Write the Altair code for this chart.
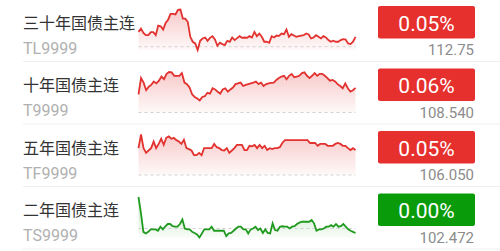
import altair as alt
import pandas as pd

# ---- quote board: main bond-futures contracts ----
names = ["三十年国债主连", "十年国债主连", "五年国债主连", "二年国债主连"]
codes = ["TL9999", "T9999", "TF9999", "TS9999"]
last_labels = ["112.75", "108.540", "106.050", "102.472"]
pct_labels = ["0.05%", "0.06%", "0.05%", "0.00%"]
prev_close = [112.69, 108.475, 105.997, 102.474]

# intraday minute prices, one list per contract
tl_prices = [
    112.78, 112.80, 112.774, 112.76, 112.76, 112.778, 112.778, 112.76, 112.818, 112.814,
    112.794, 112.834, 112.854, 112.89, 112.89, 112.886, 112.914, 112.916, 112.86, 112.86,
    112.84, 112.75, 112.72, 112.71, 112.67, 112.726, 112.74, 112.746, 112.726, 112.744,
    112.754, 112.734, 112.696, 112.714, 112.706, 112.70, 112.726, 112.72, 112.746, 112.73,
    112.742, 112.754, 112.744, 112.746, 112.744, 112.754, 112.746, 112.78, 112.754, 112.77,
    112.75, 112.72, 112.72, 112.714, 112.754, 112.746, 112.758, 112.756, 112.77, 112.766,
    112.794, 112.75, 112.766, 112.758, 112.75, 112.754, 112.758, 112.76, 112.77, 112.764,
    112.74, 112.746, 112.76, 112.75, 112.74, 112.754, 112.746, 112.73, 112.72, 112.726,
    112.72, 112.72, 112.73, 112.736, 112.734, 112.71, 112.706, 112.72, 112.75,
]
t_prices = [
    108.523, 108.566, 108.554, 108.534, 108.543, 108.548, 108.557, 108.552, 108.559, 108.570,
    108.563, 108.577, 108.582, 108.581, 108.572, 108.572, 108.572, 108.579, 108.554, 108.550,
    108.541, 108.523, 108.516, 108.512, 108.507, 108.516, 108.518, 108.527, 108.525, 108.539,
    108.536, 108.530, 108.525, 108.536, 108.539, 108.530, 108.536, 108.541, 108.550, 108.552,
    108.554, 108.545, 108.548, 108.550, 108.552, 108.554, 108.557, 108.550, 108.554, 108.545,
    108.550, 108.552, 108.553, 108.554, 108.561, 108.566, 108.570, 108.572, 108.563, 108.572,
    108.577, 108.568, 108.570, 108.572, 108.579, 108.581, 108.572, 108.566, 108.572, 108.579,
    108.572, 108.577, 108.577, 108.572, 108.566, 108.559, 108.561, 108.557, 108.550, 108.545,
    108.539, 108.552, 108.539, 108.530, 108.534, 108.540,
]
tf_prices = [
    106.054, 106.083, 106.054, 106.044, 106.049, 106.054, 106.068, 106.054, 106.063, 106.074,
    106.061, 106.076, 106.079, 106.074, 106.076, 106.071, 106.068, 106.063, 106.072, 106.054,
    106.052, 106.049, 106.039, 106.039, 106.044, 106.039, 106.054, 106.054, 106.054, 106.054,
    106.063, 106.056, 106.054, 106.050, 106.049, 106.054, 106.044, 106.049, 106.054, 106.061,
    106.061, 106.061, 106.050, 106.050, 106.059, 106.058, 106.061, 106.054, 106.061, 106.054,
    106.059, 106.050, 106.054, 106.052, 106.054, 106.054, 106.056, 106.065, 106.071, 106.071,
    106.071, 106.071, 106.071, 106.071, 106.071, 106.071, 106.071, 106.071, 106.065, 106.065,
    106.065, 106.059, 106.063, 106.063, 106.063, 106.059, 106.059, 106.059, 106.063, 106.065,
    106.063, 106.059, 106.059, 106.054, 106.050, 106.054, 106.050,
]
ts_prices = [
    102.4880, 102.4808, 102.4725, 102.4718, 102.4725, 102.4736, 102.4736, 102.4736, 102.4730, 102.4748,
    102.4736, 102.4750, 102.4760, 102.4760, 102.4750, 102.4748, 102.4748, 102.4760, 102.4780, 102.4740,
    102.4736, 102.4736, 102.4725, 102.4720, 102.4714, 102.4700, 102.4718, 102.4736, 102.4736, 102.4736,
    102.4748, 102.4730, 102.4730, 102.4730, 102.4730, 102.4730, 102.4706, 102.4718, 102.4720, 102.4730,
    102.4740, 102.4748, 102.4748, 102.4736, 102.4736, 102.4718, 102.4736, 102.4740, 102.4748, 102.4733,
    102.4740, 102.4720, 102.4736, 102.4720, 102.4718, 102.4763, 102.4733, 102.4730, 102.4748, 102.4750,
    102.4748, 102.4748, 102.4740, 102.4748, 102.4750, 102.4760, 102.4766, 102.4770, 102.4770, 102.4770,
    102.4770, 102.4778, 102.4763, 102.4730, 102.4736, 102.4736, 102.4740, 102.4748, 102.4748, 102.4755,
    102.4748, 102.4760, 102.4748, 102.4750, 102.4760, 102.4748, 102.4736, 102.4730, 102.4725, 102.4720,
]
series = [tl_prices, t_prices, tf_prices, ts_prices]

UP_LINE, UP_BADGE = "#e2322f", "#e6302e"
DOWN_LINE, DOWN_BADGE = "#1f9a1f", "#0a9b0a"
LATIN = "Roboto"
CJK = "Noto Sans CJK SC"
W, H = 500, 251
ROW_H = 62.5
SPARK_X = [138.5, 355.5]          # sparkline horizontal extent
SPARK_TOP, SPARK_BOTTOM = 9.5, 50  # sparkline vertical extent inside a row

layers = []

# ---- sparklines: each row has its own price scale ----
for i, prices in enumerate(series):
    prev = prev_close[i]
    up = prices[-1] >= prev
    line_c = UP_LINE if up else DOWN_LINE
    rgb = "226,50,47" if up else "31,154,31"
    top = i * ROW_H

    df = pd.DataFrame({"t": list(range(len(prices))), "price": prices})
    lo, hi = min(prices + [prev]), max(prices + [prev])
    xs = alt.Scale(domain=[0, len(prices) - 1], range=SPARK_X)
    ys = alt.Scale(domain=[lo, hi], range=[top + SPARK_BOTTOM, top + SPARK_TOP],
                   zero=False, nice=False)
    x_enc = alt.X("t:Q", scale=xs, axis=None)
    y_enc = alt.Y("price:Q", scale=ys, axis=None, stack=None)

    fill = alt.LinearGradient(
        gradient="linear", x1=1, x2=1, y1=1, y2=0,
        stops=[alt.GradientStop(color=f"rgba({rgb},0.03)", offset=0),
               alt.GradientStop(color=f"rgba({rgb},0.26)", offset=1)],
    )
    base = alt.Chart(df)
    layers.append(base.mark_area(color=fill).encode(
        x=x_enc, y=y_enc, y2=alt.value(top + SPARK_BOTTOM)))
    layers.append(alt.Chart(pd.DataFrame({"price": [prev]})).mark_rule(
        color="#d0d0d0", strokeWidth=1, strokeDash=[3, 3]
    ).encode(y=y_enc, x=alt.value(SPARK_X[0]), x2=alt.value(SPARK_X[1])))
    layers.append(base.mark_line(color=line_c, strokeWidth=1.8).encode(x=x_enc, y=y_enc))

# ---- row labels, badges and separators ----
rows = pd.DataFrame({
    "row": [0, 1, 2, 3],
    "name": names,
    "code": codes,
    "last": last_labels,
    "pct": pct_labels,
    "dir": ["up" if s[-1] >= p else "down" for s, p in zip(series, prev_close)],
})
row_scale = alt.Scale(domain=[0, 4], range=[0, 4 * ROW_H])
row_y = alt.Y("row:Q", scale=row_scale, axis=None)
rb = alt.Chart(rows)

layers += [
    rb.mark_rule(color="#efefef", strokeWidth=1, yOffset=61.5).encode(
        y=row_y, x=alt.value(23), x2=alt.value(W)),
    rb.mark_rect(cornerRadius=2, yOffset=6, y2Offset=38.5).encode(
        y=row_y, y2="row:Q", x=alt.value(378), x2=alt.value(475),
        color=alt.Color("dir:N", scale=alt.Scale(domain=["up", "down"],
                                                 range=[UP_BADGE, DOWN_BADGE]), legend=None)),
    rb.mark_text(font=CJK, fontSize=16, color="#333333", align="left",
                 baseline="alphabetic", dy=28.5).encode(y=row_y, x=alt.value(23), text="name:N"),
    rb.mark_text(font=LATIN, fontSize=16, color="#b0b0b0", align="left",
                 baseline="alphabetic", dy=53.5).encode(y=row_y, x=alt.value(23), text="code:N"),
    rb.mark_text(font=LATIN, fontSize=21, color="white", align="center",
                 baseline="alphabetic", dy=30.5).encode(y=row_y, x=alt.value(426.5), text="pct:N"),
    rb.mark_text(font=LATIN, fontSize=15, color="#8c8c8c", align="right",
                 baseline="alphabetic", dy=55).encode(y=row_y, x=alt.value(474), text="last:N"),
]

chart = alt.layer(*layers).resolve_scale(
    x="independent", y="independent", color="independent"
).properties(
    width=W, height=H, padding=0, background="white",
    autosize=alt.AutoSizeParams(type="none"),
).configure_view(stroke=None)

chart.save("out.html", embed_options={"renderer": "svg", "actions": False})
